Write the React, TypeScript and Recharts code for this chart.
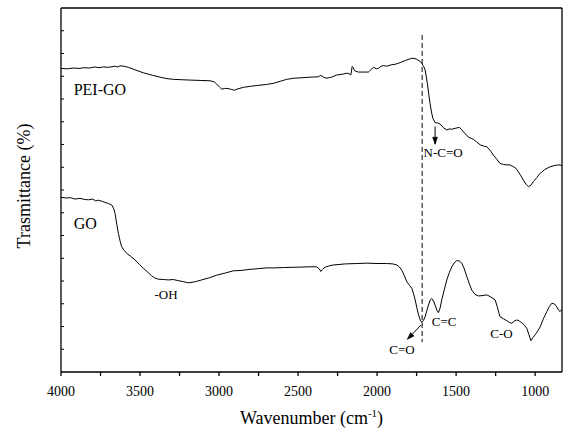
import React from 'react';
import { LineChart, Line, XAxis, YAxis, ReferenceLine, ReferenceDot } from 'recharts';

const peiWavenumber = [4000,3960,3920,3880,3859,3820,3790,3760,3732,3700,3660,3640,3627,3600,3574,3530,3479,3420,3373,3330,3289,3240,3184,3120,3057,3030,3015,2995,2983,2965,2951,2935,2920,2903,2880,2846,2800,2761,2700,2656,2610,2572,2530,2487,2424,2372,2356,2340,2318,2300,2287,2255,2220,2192,2175,2166,2158,2150,2144,2118,2085,2055,2040,2023,2005,1992,1975,1960,1940,1918,1880,1854,1820,1780,1760,1749,1730,1717,1705,1696,1682,1672,1665,1655,1647,1633,1615,1601,1580,1559,1540,1527,1500,1479,1465,1454,1422,1405,1390,1370,1348,1320,1306,1285,1264,1240,1222,1200,1179,1160,1137,1120,1106,1090,1074,1058,1042,1025,1011,990,968,940,905,870,842,830];
const peiTransmittance = [83.4,83.3,83.5,83.4,83.6,83.5,83.8,83.6,83.8,83.7,84.0,83.8,84.1,84.0,83.7,83.0,82.2,81.5,81.0,80.6,80.4,80.3,80.2,80.1,80.0,79.7,79.1,78.2,77.7,77.9,77.9,77.8,77.6,77.4,77.8,78.2,78.5,78.7,79.0,79.3,79.9,80.4,80.7,80.8,81.0,81.1,81.5,81.0,80.7,80.9,81.0,81.6,81.8,82.1,81.9,81.6,83.9,83.6,82.8,82.4,82.4,82.4,83.0,83.7,83.3,83.4,84.0,84.2,84.0,84.3,84.6,85.0,85.6,86.2,86.1,85.9,85.4,84.8,83.9,83.0,79.3,76.0,73.8,71.2,69.7,68.5,68.4,68.1,67.1,66.5,66.8,66.7,67.0,67.2,66.6,66.0,64.5,64.2,63.9,63.2,62.4,62.0,61.9,60.9,59.6,58.3,57.3,57.0,56.9,56.9,56.4,55.9,55.0,53.9,52.7,51.6,50.9,51.4,52.3,53.4,54.6,55.6,56.4,56.8,56.9,56.6];

const goWavenumber = [4000,3970,3940,3911,3880,3850,3827,3800,3780,3764,3740,3722,3700,3679,3668,3658,3647,3637,3625,3616,3600,3584,3560,3532,3505,3479,3450,3426,3405,3384,3350,3321,3290,3258,3225,3194,3150,3110,3060,3015,2960,2909,2860,2804,2750,2698,2650,2593,2500,2424,2382,2365,2356,2345,2329,2300,2276,2200,2130,2065,2000,1940,1900,1875,1860,1844,1828,1812,1795,1780,1770,1759,1748,1738,1727,1717,1706,1696,1685,1675,1664,1654,1643,1633,1622,1612,1601,1591,1575,1559,1543,1527,1512,1496,1480,1464,1448,1432,1416,1401,1380,1359,1330,1306,1280,1253,1240,1230,1222,1200,1179,1163,1148,1130,1116,1100,1084,1068,1053,1040,1027,1013,1000,985,968,948,926,910,894,878,863,852,842,830];
const goTransmittance = [48.0,47.8,47.9,47.5,47.7,47.4,47.3,47.5,47.0,47.2,46.9,46.6,46.3,45.9,45.0,43.6,40.6,38.1,35.8,34.4,33.4,32.6,31.8,30.8,29.6,28.5,27.4,26.4,25.8,25.5,25.4,25.3,25.4,25.1,24.8,24.5,24.8,25.3,25.9,26.6,27.2,27.8,27.9,28.2,28.4,28.6,28.6,28.7,28.8,28.9,28.9,28.3,27.6,28.2,28.8,29.2,29.4,29.7,29.8,29.9,29.8,29.8,29.7,29.4,28.9,28.0,26.5,24.8,23.8,23.0,21.6,19.8,17.6,15.7,14.3,13.6,14.2,15.2,16.9,18.4,19.8,20.2,19.5,18.4,17.0,16.3,17.6,19.8,22.6,25.3,27.3,28.9,30.0,30.6,30.5,29.9,28.3,26.2,24.2,22.5,21.3,20.9,21.0,21.2,20.6,19.8,18.0,16.3,15.2,14.6,14.1,13.6,13.4,14.0,14.3,14.0,13.5,12.9,12.0,10.4,8.6,9.5,10.2,11.2,12.4,14.6,16.6,18.0,18.9,18.7,17.9,17.0,16.6,17.3];

const xTicks = [4000,3750,3500,3250,3000,2750,2500,2250,2000,1750,1500,1250,1000];
const yTicks = [6.25,12.5,18.75,25,31.25,37.5,43.75,50,56.25,62.5,68.75,75,81.25,87.5,93.75];

const seriesLabels = [
  { text: 'PEI-GO', x: 3920, y: 77.7, size: 16, anchor: 'start' },
  { text: 'GO', x: 3920, y: 40.9, size: 16, anchor: 'start' },
];
const bandLabels = [
  { text: '-OH', x: 3335, y: 21.4 },
  { text: 'N-C=O', x: 1582, y: 60.4 },
  { text: 'C=C', x: 1576, y: 13.8 },
  { text: 'C-O', x: 1213, y: 10.6 },
  { text: 'C=O', x: 1842, y: 6.2 },
];
const arrows = [
  { x1: 1633, y1: 67.4, x2: 1633, y2: 62.6, angle: 90 },
  { x1: 1722, y1: 12.9, x2: 1808, y2: 9.0, angle: 134 },
];

const peiData = peiWavenumber.map((w, i) => ({ w, v: peiTransmittance[i] }));
const goData = goWavenumber.map((w, i) => ({ w, v: goTransmittance[i] }));

const FONT = 'Liberation Serif, DejaVu Serif, serif';
const X_MIN = 830;
const X_MAX = 4000;
const Y_TICK_LEN = 19; // in wavenumber units (~3px)

const TextShape = (text: string, size: number, anchor: string) => (props: any) => (
  <text x={props.cx} y={props.cy} textAnchor={anchor} dominantBaseline="central" style={{ fontFamily: FONT }} fontSize={size} fill="#000">{text}</text>
);

const ArrowHead = (angle: number) => (props: any) => {
  const { cx, cy } = props;
  const a = (angle * Math.PI) / 180;
  const dx = Math.cos(a), dy = Math.sin(a);
  const L = 7, W = 2.5;
  const bx = cx - dx * L, by = cy - dy * L;
  const px = -dy * W, py = dx * W;
  return <polygon points={`${cx},${cy} ${bx + px},${by + py} ${bx - px},${by - py}`} fill="#000" stroke="#000" strokeWidth={0.5} />;
};

const Titles = (props: any) => {
  const vb = props.viewBox || {};
  const cx = vb.x + vb.width / 2;
  return (
    <g>
      <text x={cx} y={vb.y + 52} textAnchor="middle" style={{ fontFamily: FONT }} fontSize={18} fill="#000">
        Wavenumber (cm<tspan dy={-7} fontSize={11}>-1</tspan><tspan dy={7}>)</tspan>
      </text>
      <text x={24} y={186} transform="rotate(-90 24 186)" textAnchor="middle" dominantBaseline="central" style={{ fontFamily: FONT }} fontSize={18} fill="#000">Trasmittance (%)</text>
    </g>
  );
};

export default function App() {
  return (
    <div style={{ position: 'absolute', left: 0, top: 0, width: 565, height: 433, background: '#fff' }}>
      <LineChart width={565} height={433} margin={{ top: 8, right: 3, bottom: 0, left: 61 }}>
        <XAxis
          dataKey="w"
          type="number"
          domain={[X_MIN, X_MAX]}
          reversed
          allowDataOverflow
          ticks={xTicks}
          tickFormatter={(v: number) => (v % 500 === 0 ? String(v) : '')}
          tickSize={4}
          tickMargin={10}
          height={61}
          stroke="#000"
          strokeWidth={1.3}
          tick={{ fill: '#000', fontFamily: FONT, fontSize: 14 }}
          label={<Titles />}
          interval={0}
        />
        <YAxis type="number" domain={[0, 100]} allowDataOverflow hide />
        <ReferenceLine y={100} stroke="#000" strokeWidth={1.3} />
        <ReferenceLine x={X_MIN} stroke="#000" strokeWidth={1.3} />
        <ReferenceLine x={X_MAX} stroke="#000" strokeWidth={1.3} />
        {yTicks.map((t) => (
          <ReferenceLine key={`yt${t}`} segment={[{ x: X_MAX, y: t }, { x: X_MAX - Y_TICK_LEN, y: t }]} stroke="#000" strokeWidth={1} />
        ))}
        <ReferenceLine segment={[{ x: 1715, y: 92.6 }, { x: 1715, y: 8.2 }]} stroke="#000" strokeWidth={1} strokeDasharray="5 3" />
        <Line data={peiData} dataKey="v" type="linear" stroke="#000" strokeWidth={1} dot={false} isAnimationActive={false} />
        <Line data={goData} dataKey="v" type="linear" stroke="#000" strokeWidth={1} dot={false} isAnimationActive={false} />
        {arrows.map((a, i) => (
          <ReferenceLine key={`as${i}`} segment={[{ x: a.x1, y: a.y1 }, { x: a.x2, y: a.y2 }]} stroke="#000" strokeWidth={1} />
        ))}
        {arrows.map((a, i) => (
          <ReferenceDot key={`ah${i}`} x={a.x2} y={a.y2} r={0} shape={ArrowHead(a.angle)} />
        ))}
        {seriesLabels.map((l, i) => (
          <ReferenceDot key={`sl${i}`} x={l.x} y={l.y} r={0} shape={TextShape(l.text, l.size, l.anchor)} />
        ))}
        {bandLabels.map((l, i) => (
          <ReferenceDot key={`bl${i}`} x={l.x} y={l.y} r={0} shape={TextShape(l.text, 13, 'middle')} />
        ))}
      </LineChart>
    </div>
  );
}
